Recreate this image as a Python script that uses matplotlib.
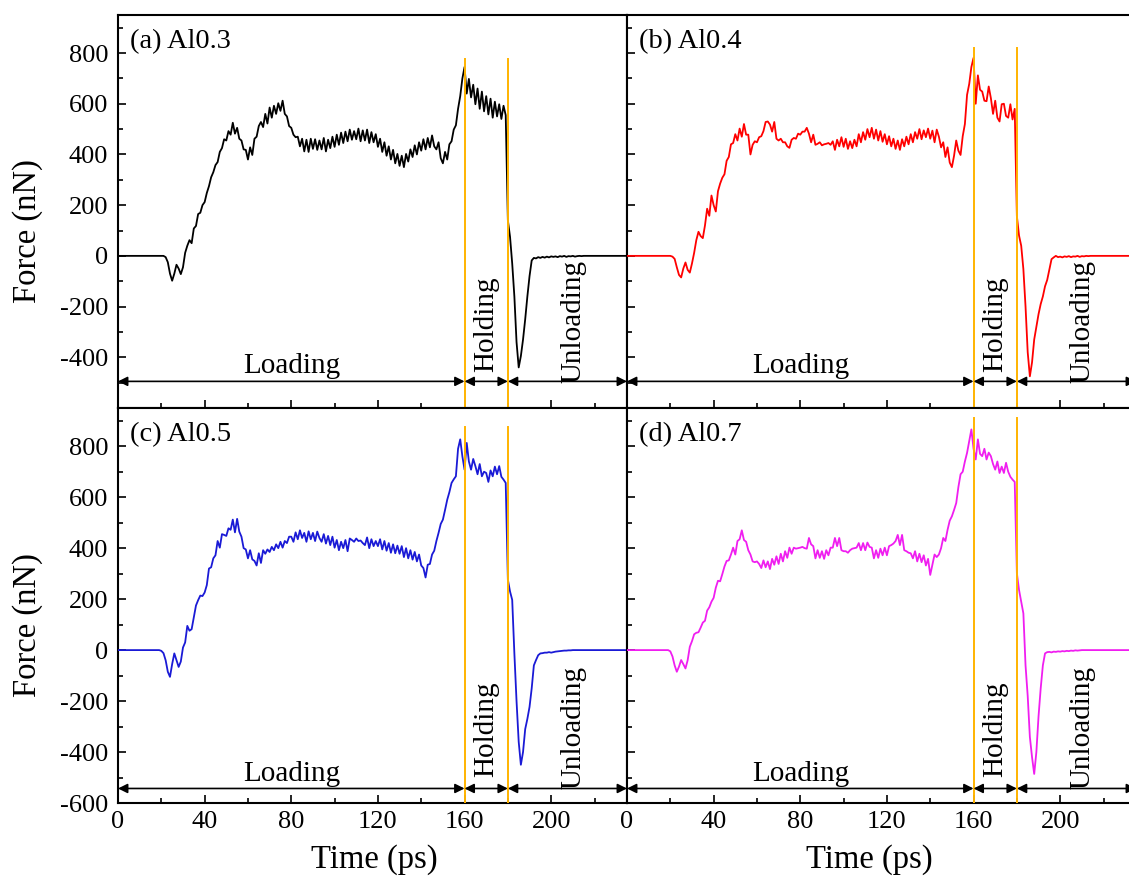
import numpy as np
import matplotlib
matplotlib.use("Agg")
import matplotlib.pyplot as plt
from matplotlib.ticker import MultipleLocator

plt.rcParams['font.family'] = ['Liberation Serif', 'DejaVu Serif']
plt.rcParams['axes.unicode_minus'] = False

# Force (nN) sampled every 1 ps, t = 0 ... 235 ps
force_a = [
    0, 0, 0, 0, 0, 0, 0, 0, 0, 0,
    0, 0, 0, 0, 0, 0, 0, 0, 0, 0,
    0, 0, -5, -25, -70, -98, -70, -35, -50, -72,
    -45, 12, 40, 62, 50, 108, 118, 165, 170, 200,
    212, 248, 275, 310, 330, 358, 370, 410, 425, 460,
    455, 492, 478, 525, 482, 505, 462, 455, 420, 418,
    380, 428, 398, 462, 470, 512, 528, 508, 560, 522,
    585, 545, 592, 560, 602, 572, 612, 560, 550, 512,
    505, 478, 468, 470, 432, 462, 412, 458, 410, 462,
    422, 460, 418, 455, 420, 465, 412, 458, 425, 470,
    430, 478, 438, 486, 445, 490, 452, 498, 458, 492,
    460, 502, 452, 495, 455, 498, 445, 488, 448, 480,
    430, 462, 410, 448, 395, 432, 380, 418, 365, 402,
    355, 395, 350, 402, 372, 420, 390, 436, 400, 448,
    415, 460, 420, 465, 428, 475, 432, 420, 448, 385,
    365, 410, 380, 440, 452, 498, 515, 580, 630, 700,
    745, 640, 698, 625, 675, 598, 660, 580, 648, 570,
    630, 558, 620, 545, 608, 550, 598, 540, 592, 555,
    140, 75, -30, -160, -340, -440, -395, -330, -250, -160,
    -80, -18, -8, -10, -5, -8, -4, -7, -3, -6,
    -2, -4, -2, -5, -1, -3, 0, -4, -1, -2,
    0, -3, -1, 0, -1, 0, 0, 0, 0, 0,
    0, 0, 0, 0, 0, 0, 0, 0, 0, 0,
    0, 0, 0, 0, 0, 0,
]

force_b = [
    0, 0, 0, 0, 0, 0, 0, 0, 0, 0,
    0, 0, 0, 0, 0, 0, 0, 0, 0, 0,
    0, -3, -12, -45, -75, -85, -50, -26, -55, -66,
    -30, 12, 62, 95, 78, 70, 120, 186, 158, 238,
    200, 175, 255, 285, 308, 322, 375, 390, 440, 445,
    480, 455, 502, 470, 520, 478, 478, 400, 438, 452,
    448, 468, 472, 492, 528, 530, 518, 490, 528, 462,
    455, 462, 448, 448, 432, 426, 458, 465, 462, 482,
    478, 490, 490, 505, 482, 448, 478, 438, 442, 448,
    436, 440, 442, 445, 438, 452, 418, 458, 432, 468,
    430, 462, 422, 452, 425, 458, 432, 480, 448, 488,
    458, 500, 468, 505, 462, 498, 455, 492, 450, 480,
    440, 472, 432, 462, 422, 455, 418, 460, 432, 470,
    440, 480, 448, 488, 462, 500, 460, 495, 468, 502,
    462, 494, 448, 498, 470, 428, 448, 390, 428, 368,
    350, 395, 455, 415, 398, 472, 520, 635, 678, 745,
    781, 600, 712, 655, 648, 612, 610, 668, 622, 560,
    612, 545, 530, 598, 600, 552, 545, 598, 538, 580,
    157, 80, 40, -52, -200, -380, -475, -420, -330, -280,
    -230, -190, -160, -120, -95, -55, -13, -6, 0, -5,
    -3, -6, -2, -4, -1, -5, -2, -3, 0, -4,
    -1, -2, 0, -1, 0, 0, 0, 0, 0, 0,
    0, 0, 0, 0, 0, 0, 0, 0, 0, 0,
    0, 0, 0, 0, 0, 0,
]

force_c = [
    0, 0, 0, 0, 0, 0, 0, 0, 0, 0,
    0, 0, 0, 0, 0, 0, 0, 0, 0, 0,
    -3, -12, -40, -85, -105, -55, -13, -40, -66, -45,
    10, 30, 95, 76, 82, 128, 175, 196, 214, 212,
    226, 255, 320, 325, 360, 372, 428, 402, 455, 452,
    448, 478, 472, 512, 462, 515, 465, 445, 400, 395,
    360, 392, 356, 350, 332, 380, 342, 392, 378, 395,
    385, 405, 392, 415, 400, 425, 402, 428, 420, 445,
    445, 425, 462, 435, 470, 440, 460, 425, 466, 435,
    460, 428, 465, 440, 425, 455, 418, 448, 412, 445,
    402, 432, 392, 425, 400, 432, 388, 438, 432, 425,
    438, 428, 430, 420, 412, 442, 400, 435, 408, 428,
    408, 435, 395, 428, 390, 420, 382, 415, 380, 410,
    378, 408, 365, 400, 360, 392, 355, 385, 348, 375,
    332, 322, 285, 335, 338, 375, 390, 428, 460, 495,
    512, 550, 590, 620, 656, 670, 682, 790, 827, 760,
    708, 813, 740, 708, 750, 722, 690, 730, 682, 700,
    695, 660, 705, 682, 720, 690, 722, 680, 669, 656,
    276, 230, 197, -13, -200, -360, -450, -400, -310, -270,
    -223, -150, -60, -39, -20, -13, -12, -10, -10, -8,
    -10, -8, -6, -5, -4, -3, -2, -2, -1, -1,
    0, 0, 0, 0, 0, 0, 0, 0, 0, 0,
    0, 0, 0, 0, 0, 0, 0, 0, 0, 0,
    0, 0, 0, 0, 0, 0,
]

force_d = [
    0, 0, 0, 0, 0, 0, 0, 0, 0, 0,
    0, 0, 0, 0, 0, 0, 0, 0, 0, 0,
    -5, -25, -60, -85, -65, -39, -55, -72, -40, 13,
    35, 62, 68, 70, 88, 108, 115, 155, 168, 190,
    205, 245, 272, 270, 298, 328, 350, 352, 375, 402,
    375, 428, 435, 470, 432, 425, 392, 375, 348, 345,
    348, 338, 322, 352, 325, 348, 318, 358, 335, 368,
    338, 378, 348, 388, 362, 402, 378, 402, 398, 400,
    402, 405, 400, 398, 440, 415, 408, 360, 392, 362,
    388, 358, 392, 372, 402, 402, 440, 408, 440, 392,
    388, 388, 382, 392, 398, 400, 402, 420, 392, 420,
    392, 422, 405, 402, 360, 392, 362, 398, 372, 402,
    372, 408, 412, 418, 428, 452, 412, 452, 392, 388,
    382, 380, 360, 388, 348, 378, 345, 372, 332, 358,
    295, 335, 375, 365, 375, 400, 440, 428, 472, 508,
    525, 550, 577, 640, 690, 700, 740, 774, 820, 866,
    790, 748, 827, 770, 761, 790, 748, 775, 761, 730,
    708, 740, 695, 720, 695, 735, 700, 680, 669, 660,
    302, 236, 190, 144, -60, -180, -341, -420, -486, -400,
    -260, -150, -60, -13, -8, -7, -9, -6, -7, -5,
    -6, -4, -5, -3, -4, -2, -3, -1, -2, -1,
    0, 0, 0, 0, 0, 0, 0, 0, 0, 0,
    0, 0, 0, 0, 0, 0, 0, 0, 0, 0,
    0, 0, 0, 0, 0, 0,
]

labels = ['(a) Al0.3', '(b) Al0.4', '(c) Al0.5', '(d) Al0.7']
colors = ['black', '#FF0000', '#1A1AD6', '#F01EF0']
forces = [force_a, force_b, force_c, force_d]

# stage boundaries (ps) and the height each marker line reaches (nN)
hold_start = 160
hold_end = 180
marker_top = [775, 820, 875, 910]

# stage arrows and their text heights per row
arrow_y = [-495, -543]
loading_y = [-462, -512]
vert_y = [-268, -312]

fig = plt.figure(figsize=(11.29, 8.77), dpi=100)

left, width = 118 / 1129, 509 / 1129
boxes = [
    [left, 469 / 877, width, 393 / 877],
    [627 / 1129, 469 / 877, width, 393 / 877],
    [left, 74 / 877, width, 395 / 877],
    [627 / 1129, 74 / 877, width, 395 / 877],
]

for i in range(4):
    ax = fig.add_axes(boxes[i])
    row = i // 2
    col = i % 2
    f = np.array(forces[i])
    t = np.arange(len(f))

    ax.plot(t, f, color=colors[i], lw=1.3, zorder=3)

    ## stage boundaries
    for x in (hold_start, hold_end):
        ax.plot([x, x], [-600, marker_top[i]], color='#FFB300', lw=1.4, zorder=4)

    ## stage arrows
    ay = arrow_y[row]
    for x0, x1 in ((0, hold_start), (hold_start, hold_end), (hold_end, 235)):
        ax.annotate('', xy=(x1, ay), xytext=(x0, ay),
                    arrowprops=dict(arrowstyle='<|-|>', color='black', lw=1.2,
                                    mutation_scale=14, shrinkA=0, shrinkB=0),
                    zorder=5)
    ax.text(80, loading_y[row], 'Loading', fontsize=21, ha='center', va='baseline')
    ax.text(170, vert_y[row], 'Holding', fontsize=21, rotation=90, ha='center', va='center')
    ax.text(210.5, vert_y[row] + 8, 'Unloading', fontsize=21, rotation=90, ha='center', va='center')

    ax.text(0.024, 0.965, labels[i], transform=ax.transAxes, fontsize=20.5, ha='left', va='top')

    ax.set_xlim(0, 235)
    ax.set_ylim(-600, 950)
    ax.xaxis.set_major_locator(MultipleLocator(40))
    ax.xaxis.set_minor_locator(MultipleLocator(20))
    if row == 0:
        ax.set_yticks(range(-400, 801, 200))
    else:
        ax.set_yticks(range(-600, 801, 200))
    ax.yaxis.set_minor_locator(MultipleLocator(100))

    ax.tick_params(which='both', direction='in', top=False, right=False, labelsize=19)
    ax.tick_params(which='major', length=6, width=1.2)
    ax.tick_params(which='minor', length=3.5, width=1.2)
    ax.tick_params(axis='y', pad=7)
    ax.tick_params(axis='x', pad=6)
    for s in ax.spines.values():
        s.set_linewidth(1.5)

    if row == 0:
        ax.tick_params(labelbottom=False)
    else:
        ax.set_xlabel('Time (ps)', fontsize=23.5)
        ax.xaxis.set_label_coords(0.503 if col == 0 else 0.477, -0.105)
        ax.xaxis.label.set_va('top')
    if col == 1:
        ax.tick_params(labelleft=False)
    else:
        ax.set_ylabel('Force (nN)', fontsize=23.5)
        ax.yaxis.set_label_coords(-0.148, 0.45)

fig.savefig('out.png', dpi=100)
